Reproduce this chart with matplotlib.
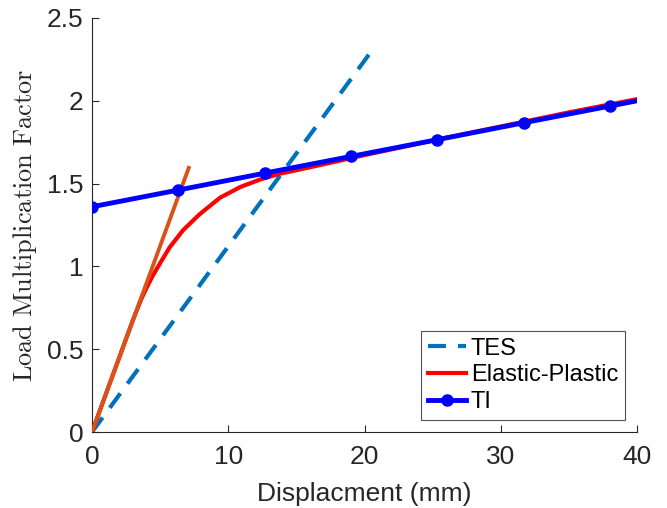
import numpy as np
import matplotlib.pyplot as plt

plt.rcParams['font.family'] = ['Liberation Sans', 'DejaVu Sans']
plt.rcParams['mathtext.fontset'] = 'cm'

# TES secant line (dashed)
tes_x = [0, 20.6]
tes_y = [0, 2.31]

# initial elastic tangent
tan_x = [0, 7.1]
tan_y = [0, 1.595]

# elastic-plastic response
ep_x = [0, 3.0, 3.6, 4.0, 4.4, 5.0, 5.7, 6.7, 7.9, 9.4, 10.9, 12.35, 13.8,
        15.8, 18, 20, 25, 30, 35, 40]
ep_y = [0, 0.675, 0.80, 0.87, 0.935, 1.02, 1.115, 1.22, 1.315, 1.415, 1.48,
        1.525, 1.56, 1.595, 1.635, 1.672, 1.76, 1.845, 1.93, 2.01]

# TI line
ti_x = [0, 6.33, 12.67, 19, 25.33, 31.67, 38, 40]
ti_y = [1.36, 1.461, 1.563, 1.664, 1.765, 1.867, 1.968, 2.0]

fig = plt.figure(figsize=(6.67, 5.08), dpi=100)
ax = fig.add_axes([92 / 667, 76 / 508, 545 / 667, 414 / 508])

ax.plot(tes_x, tes_y, color='#0072BD', lw=3, dashes=(4.3, 2.9), label='TES',
        zorder=2)
ax.plot(ep_x, ep_y, color='red', lw=3, label='Elastic-Plastic', zorder=2)
ax.plot(tan_x, tan_y, color='#D95319', lw=2.8, zorder=3)
ax.plot(ti_x, ti_y, color='blue', lw=3.5, marker='o', ms=8,
        markevery=list(range(7)), label='TI', zorder=4)

ax.set_xlim(0, 40)
ax.set_ylim(0, 2.5)
ax.set_xticks([0, 10, 20, 30, 40])
ax.set_yticks([0, 0.5, 1, 1.5, 2, 2.5])
ax.set_yticklabels(['0', '0.5', '1', '1.5', '2', '2.5'])
ax.spines['top'].set_visible(False)
ax.spines['right'].set_visible(False)
for s in ('left', 'bottom'):
    ax.spines[s].set_color('#262626')
    ax.spines[s].set_linewidth(0.8)
ax.tick_params(direction='in', length=5, width=0.8, labelsize=19,
               colors='#262626')
ax.tick_params(axis='x', pad=9)
ax.tick_params(axis='y', pad=6)

ax.set_xlabel('Displacment (mm)', fontsize=19, color='#262626', labelpad=10)
ax.set_ylabel(r'$\mathrm{Load\ Multiplication\ Factor}$', fontsize=19,
              color='#262626', labelpad=6)

leg = ax.legend(loc='lower right', fontsize=17, frameon=True, fancybox=False,
                edgecolor='#262626', handlelength=1.6, handletextpad=0.2,
                borderpad=0.3, labelspacing=0.2, borderaxespad=0.5)
leg.get_frame().set_linewidth(0.8)

fig.savefig('out.png', dpi=100)
